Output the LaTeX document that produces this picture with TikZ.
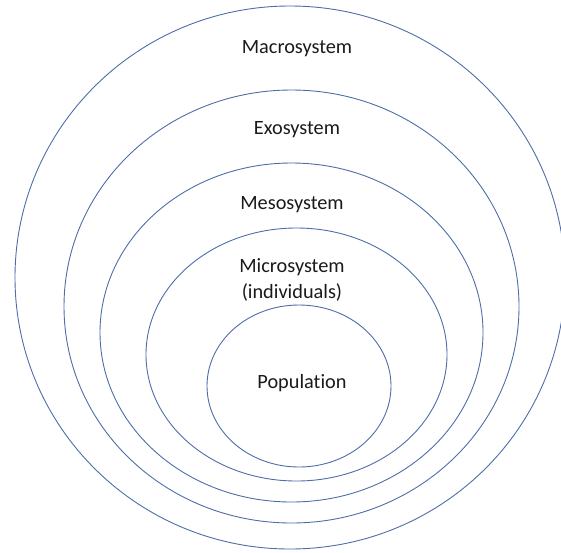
\documentclass[tikz,border=0pt]{standalone}
\usepackage{fontspec}
\setmainfont{Carlito}[Ligatures={NoCommon}]
\usetikzlibrary{shapes.geometric}
\definecolor{ringblue}{HTML}{4F6DA8}
\definecolor{labelgray}{HTML}{1A1A1A}
\tikzset{
  ring/.style={ellipse, draw=ringblue, line width=0.9pt, inner sep=0pt},
  lbl/.style={text=labelgray, font=\fontsize{20.3}{26}\selectfont, align=center, inner sep=0pt}
}
\begin{document}
\begin{tikzpicture}[x=1pt, y=-1pt]
\useasboundingbox (0,0) rectangle (561,552);
\clip (0,0) rectangle (561,552);
\node[ring, minimum width=550pt, minimum height=543pt] (macro) at (290,277.5) {};
\node[ring, minimum width=455pt, minimum height=433pt] (exo) at (291.5,306.5) {};
\node[ring, minimum width=383pt, minimum height=339pt] (meso) at (291.5,332.5) {};
\node[ring, minimum width=301pt, minimum height=253pt] (micro) at (296.5,354.5) {};
\node[ring, minimum width=184pt, minimum height=162pt] (pop) at (299,386) {};
\node[lbl] (tmacro) at (297,49) {Macrosystem};
\node[lbl] (texo) at (297,130) {Exosystem};
\node[lbl] (tmeso) at (292,204.5) {Mesosystem};
\node[lbl] (tmicro) at (292,280) {Microsystem\\(individuals)};
\node[lbl] (tpop) at (302,383) {Population};
\end{tikzpicture}
\end{document}
